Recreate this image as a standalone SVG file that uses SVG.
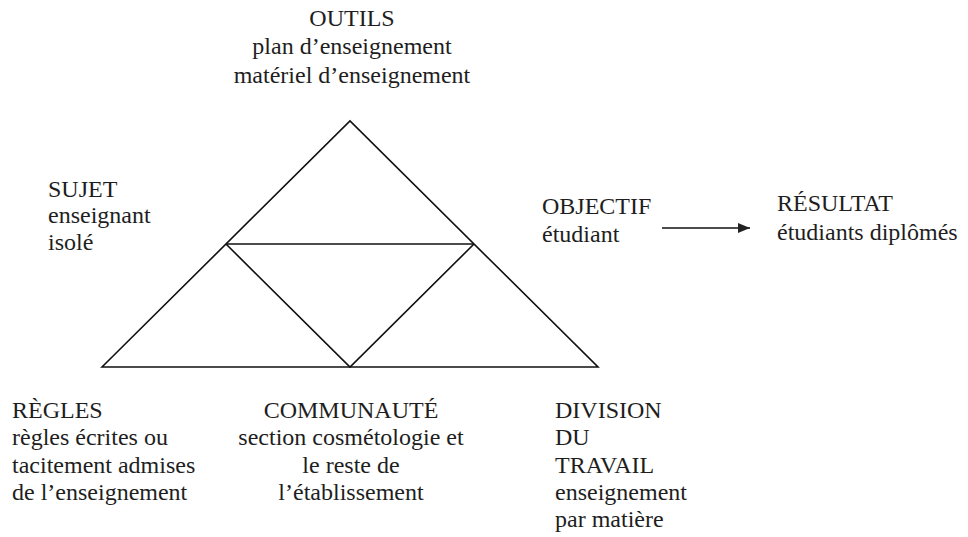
<svg xmlns="http://www.w3.org/2000/svg" width="968" height="537" viewBox="0 0 968 537">
  <defs>
    <style>
      text { font-family: 'Liberation Serif', 'DejaVu Serif', 'Times New Roman', Times, serif; font-size: 24px; fill: #1e1e1e; }
      .c { text-anchor: middle; }
      .ln { stroke: #111; stroke-width: 1.6; fill: none; }
    </style>
    <marker id="arrow" viewBox="0 0 12 10" refX="12" refY="5" markerWidth="12" markerHeight="10" markerUnits="userSpaceOnUse" orient="auto">
      <path d="M0,0 L12,5 L0,10 Z" fill="#222"/>
    </marker>
  </defs>
  <rect width="968" height="537" fill="#ffffff"/>

  <!-- activity triangle: outer outline, mid line and inner inverted triangle -->
  <g id="triangle">
    <path class="ln" d="M102,367 L350,121 L598,367 Z"/>
    <path class="ln" d="M226,244 L474,244"/>
    <path class="ln" d="M226,244 L350,367 L474,244"/>
  </g>

  <g id="outils">
    <text class="c" x="352" y="26">OUTILS</text>
    <text class="c" x="352" y="54">plan d’enseignement</text>
    <text class="c" x="352" y="83">matériel d’enseignement</text>
  </g>

  <g id="sujet">
    <text x="48" y="197">SUJET</text>
    <text x="48" y="223">enseignant</text>
    <text x="48" y="250">isolé</text>
  </g>

  <g id="objectif">
    <text x="542" y="214">OBJECTIF</text>
    <text x="542" y="242">étudiant</text>
  </g>

  <g id="resultat">
    <text x="777" y="211">RÉSULTAT</text>
    <text x="777" y="240">étudiants diplômés</text>
  </g>

  <g id="regles">
    <text x="12" y="418">RÈGLES</text>
    <text x="12" y="445">règles écrites ou</text>
    <text x="12" y="473">tacitement admises</text>
    <text x="12" y="500">de l’enseignement</text>
  </g>

  <g id="communaute">
    <text class="c" x="351" y="418">COMMUNAUTÉ</text>
    <text class="c" x="351" y="445">section cosmétologie et</text>
    <text class="c" x="351" y="473">le reste de</text>
    <text class="c" x="351" y="500">l’établissement</text>
  </g>

  <g id="division">
    <text x="555" y="418">DIVISION</text>
    <text x="555" y="445">DU</text>
    <text x="555" y="473">TRAVAIL</text>
    <text x="555" y="500">enseignement</text>
    <text x="555" y="527">par matière</text>
  </g>

  <!-- connectors -->
  <g id="connectors">
    <line class="ln" x1="662" y1="228" x2="750" y2="228" marker-end="url(#arrow)"/>
  </g>
</svg>
